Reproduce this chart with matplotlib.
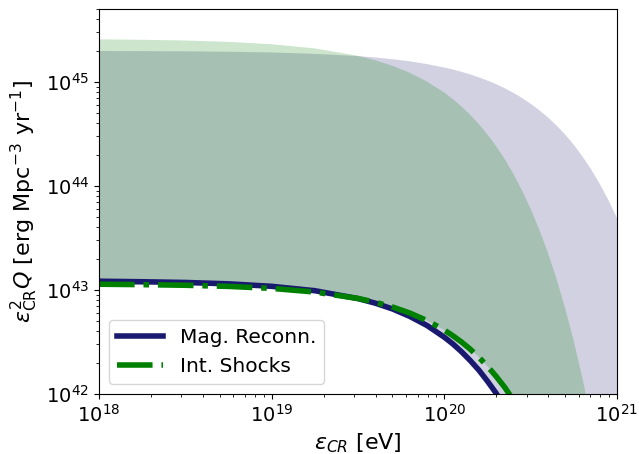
import matplotlib
matplotlib.use("Agg")
import matplotlib.pyplot as plt

# Cosmic-ray energy grid [eV]
energy = [1e18, 1.778e18, 3.162e18, 5.623e18, 1e19, 1.778e19, 3.162e19,
          3.981e19, 5.012e19, 6.310e19, 7.943e19, 1.0e20, 1.122e20, 1.259e20,
          1.413e20, 1.585e20, 1.778e20, 1.995e20, 2.239e20, 2.512e20, 2.818e20,
          3.162e20, 3.548e20, 3.981e20, 4.467e20, 5.012e20, 5.623e20, 6.310e20,
          7.079e20, 7.943e20, 8.913e20, 1e21]

# Magnetic reconnection: central curve and upper edge of band
mag_reconn = [1.216e43, 1.202e43, 1.183e43, 1.148e43, 1.086e43, 9.86e42, 8.28e42,
              7.48e42, 6.58e42, 5.58e42, 4.56e42, 3.52e42, 3.03e42, 2.55e42,
              2.10e42, 1.70e42, 1.33e42, 1.02e42, 7.48e41, 5.32e41, 3.63e41,
              2.36e41, 1.46e41, 8.49e40, 4.62e40, 2.34e40, 1.09e40, 4.61e39,
              1.77e39, 6.0e38, 1.78e38, 4.58e37]
mag_reconn_upper = [1.986e45, 1.982e45, 1.972e45, 1.954e45, 1.923e45, 1.866e45, 1.774e45,
                    1.722e45, 1.656e45, 1.581e45, 1.486e45, 1.377e45, 1.318e45, 1.253e45,
                    1.183e45, 1.109e45, 1.033e45, 9.53e44, 8.71e44, 7.87e44, 7.03e44,
                    6.18e44, 5.36e44, 4.57e44, 3.82e44, 3.12e44, 2.49e44, 1.93e44,
                    1.45e44, 1.05e44, 7.35e43, 4.92e43]

# Internal shocks: central curve and upper edge of band
int_shocks = [1.138e43, 1.127e43, 1.112e43, 1.084e43, 1.038e43, 9.57e42, 8.30e42,
              7.64e42, 6.87e42, 6.01e42, 5.08e42, 4.12e42, 3.63e42, 3.16e42,
              2.70e42, 2.26e42, 1.85e42, 1.48e42, 1.16e42, 8.73e41, 6.38e41,
              4.49e41, 3.02e41, 1.94e41, 1.17e41, 6.73e40, 3.60e40, 1.78e40,
              8.07e39, 3.33e39, 1.23e39, 4.04e38]
int_shocks_upper = [2.570e45, 2.547e45, 2.506e45, 2.432e45, 2.307e45, 2.104e45, 1.786e45,
                    1.618e45, 1.432e45, 1.227e45, 1.009e45, 7.91e44, 6.84e44, 5.81e44,
                    4.84e44, 3.94e44, 3.13e44, 2.42e44, 1.81e44, 1.31e44, 9.08e43,
                    6.03e43, 3.81e43, 2.28e43, 1.28e43, 6.67e42, 3.22e42, 1.42e42,
                    5.69e41, 2.03e41, 6.41e40, 1.76e40]

labels = ["Mag. Reconn.", "Int. Shocks"]

fig = plt.figure(figsize=(6.39, 4.54), dpi=100)
ax = fig.add_axes([0.155, 0.132, 0.8105, 0.8475])

ax.fill_between(energy, mag_reconn, mag_reconn_upper, color="midnightblue",
                alpha=0.2, linewidth=0)
ax.fill_between(energy, int_shocks, int_shocks_upper, color="green",
                alpha=0.2, linewidth=0)
ax.plot(energy, mag_reconn, color="midnightblue", lw=4, ls="-", label=labels[0])
ax.plot(energy, int_shocks, color="green", lw=4, ls="-.", label=labels[1])

ax.set_xscale("log")
ax.set_yscale("log")
ax.set_xlim(1e18, 1e21)
ax.set_ylim(1e42, 5e45)

ax.set_xlabel(r"$\varepsilon_{CR}$ [eV]", fontsize=16)
ax.set_ylabel(r"$\varepsilon_{\rm CR}^2 Q$ [erg Mpc$^{-3}$ yr$^{-1}$]", fontsize=16)
ax.tick_params(axis="both", which="major", labelsize=14)

ax.legend(loc="lower left", fontsize=14.5, handlelength=2.3)

fig.savefig("out.png", dpi=100)
